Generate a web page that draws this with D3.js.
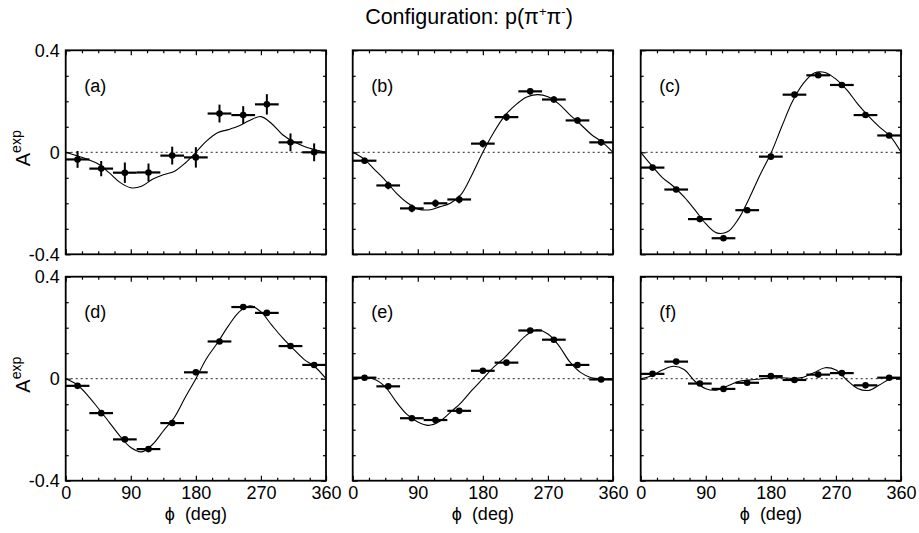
<!DOCTYPE html>
<html>
<head>
<meta charset="utf-8">
<script src="https://cdn.jsdelivr.net/npm/d3@7"></script>
<style>
  body { margin: 0; background: #fff; }
  text { font-family: "Liberation Sans", Arial, sans-serif; fill: #000; }
</style>
</head>
<body>
<svg id="chart" width="919" height="533"></svg>
<script>
// bin centres (deg) and half width of the horizontal bars
const binCenters = [16.4, 49.1, 81.8, 114.5, 147.3, 180.0, 212.7, 245.5, 278.2, 310.9, 343.6];
const binHalfWidth = 16.4;

// measured asymmetries, one array per panel
const valuesA = [-0.028, -0.064, -0.080, -0.079, -0.013, -0.020, 0.152, 0.146, 0.188, 0.039, 0.000];
const errorsA = [0.033, 0.030, 0.040, 0.035, 0.035, 0.040, 0.035, 0.035, 0.040, 0.035, 0.035];
const valuesB = [-0.033, -0.130, -0.220, -0.200, -0.185, 0.034, 0.138, 0.239, 0.207, 0.125, 0.039];
const errorsB = [0.012, 0.015, 0.015, 0.015, 0.015, 0.015, 0.015, 0.012, 0.012, 0.012, 0.012];
const valuesC = [-0.060, -0.146, -0.262, -0.337, -0.227, -0.017, 0.226, 0.302, 0.264, 0.146, 0.066];
const errorsC = [0.010, 0.010, 0.010, 0.010, 0.010, 0.010, 0.010, 0.010, 0.010, 0.010, 0.010];
const valuesD = [-0.028, -0.135, -0.238, -0.276, -0.174, 0.025, 0.146, 0.281, 0.258, 0.128, 0.054];
const errorsD = [0.008, 0.008, 0.008, 0.008, 0.008, 0.008, 0.008, 0.008, 0.008, 0.008, 0.008];
const valuesE = [0.004, -0.030, -0.155, -0.162, -0.126, 0.031, 0.063, 0.189, 0.153, 0.054, -0.003];
const errorsE = [0.008, 0.008, 0.008, 0.008, 0.008, 0.008, 0.008, 0.008, 0.008, 0.008, 0.008];
const valuesF = [0.019, 0.067, -0.019, -0.040, -0.016, 0.010, -0.005, 0.016, 0.022, -0.026, 0.004];
const errorsF = [0.006, 0.006, 0.006, 0.006, 0.006, 0.006, 0.006, 0.006, 0.006, 0.006, 0.006];

const curvePhi = [0, 15, 30, 45, 60, 75, 90, 105, 120, 135, 150, 165, 180,
                  195, 210, 225, 240, 255, 270, 285, 300, 315, 330, 345, 360];
const curveA = [0, -0.013, -0.027, -0.046, -0.080, -0.118, -0.139, -0.133, -0.106, -0.088, -0.075, -0.043, 0,
                0.045, 0.077, 0.089, 0.104, 0.126, 0.140, 0.112, 0.069, 0.042, 0.023, 0.010, 0];
const curveB = [0, -0.025, -0.067, -0.110, -0.159, -0.197, -0.222, -0.226, -0.214, -0.200, -0.165, -0.088, 0,
                0.078, 0.142, 0.185, 0.216, 0.226, 0.218, 0.190, 0.148, 0.110, 0.070, 0.040, 0];
const curveC = [0, -0.051, -0.099, -0.133, -0.175, -0.226, -0.280, -0.316, -0.312, -0.262, -0.181, -0.089, -0.005,
                0.100, 0.200, 0.270, 0.311, 0.313, 0.287, 0.245, 0.190, 0.142, 0.100, 0.063, 0];
const curveD = [0, -0.022, -0.064, -0.116, -0.170, -0.225, -0.270, -0.287, -0.258, -0.205, -0.153, -0.075, 0,
                0.080, 0.141, 0.207, 0.262, 0.286, 0.262, 0.210, 0.160, 0.116, 0.075, 0.046, 0];
const curveE = [0, 0.003, -0.002, -0.032, -0.090, -0.140, -0.170, -0.183, -0.168, -0.132, -0.094, -0.045, 0,
                0.045, 0.083, 0.128, 0.170, 0.192, 0.175, 0.130, 0.067, 0.025, 0.004, 0, 0];
const curveF = [0, 0.012, 0.034, 0.049, 0.036, -0.010, -0.039, -0.045, -0.029, -0.011, -0.005, -0.001, 0.003,
                0.004, 0.001, 0.006, 0.024, 0.043, 0.034, -0.005, -0.038, -0.046, -0.025, -0.001, 0];

const panelLabels = ['(a)', '(b)', '(c)', '(d)', '(e)', '(f)'];
const xMajor = [0, 90, 180, 270, 360];
const xMinor = [22.5, 45, 67.5, 112.5, 135, 157.5, 202.5, 225, 247.5, 292.5, 315, 337.5];
const yMajor = [-0.4, 0, 0.4];
const yMinor = [-0.3, -0.2, -0.1, 0.1, 0.2, 0.3];

const panels = [
  { values: valuesA, errors: errorsA, curve: curveA },
  { values: valuesB, errors: errorsB, curve: curveB },
  { values: valuesC, errors: errorsC, curve: curveC },
  { values: valuesD, errors: errorsD, curve: curveD },
  { values: valuesE, errors: errorsE, curve: curveE },
  { values: valuesF, errors: errorsF, curve: curveF }
];

const svg = d3.select('#chart');
const colLeft = [65.7, 352.7, 640.7];
const rowTop = [50.3, 276.7];
const w = 260.3, h = 204;

const x = d3.scaleLinear().domain([0, 360]).range([0, w]);
const y = d3.scaleLinear().domain([-0.4, 0.4]).range([h, 0]);
const fmtY = d => d === 0 ? '0' : String(d);

function ticks(g, axis, tx, ty, vals, len, labels, fmt) {
  const a = g.append('g')
    .attr('transform', `translate(${tx},${ty})`)
    .call(axis.tickValues(vals).tickSize(-len).tickPadding(6)
      .tickFormat(labels ? fmt : ''));
  a.select('.domain').remove();
  a.selectAll('line').attr('stroke', '#000').attr('stroke-width', 1.2);
  a.attr('font-family', null).attr('font-size', 18);
}

panels.forEach((p, i) => {
  const col = i % 3, row = Math.floor(i / 3);
  const g = svg.append('g')
    .attr('transform', `translate(${colLeft[col]},${rowTop[row]})`);

  // zero line
  g.append('line')
    .attr('x1', x(0)).attr('x2', x(360))
    .attr('y1', y(0)).attr('y2', y(0))
    .attr('stroke', '#222').attr('stroke-width', 1)
    .attr('stroke-dasharray', '2,3');

  // ticks on all four sides, pointing inward
  ticks(g, d3.axisBottom(x), 0, h, xMajor, 5, row === 1, d => String(d));
  ticks(g, d3.axisBottom(x), 0, h, xMinor, 3, false);
  ticks(g, d3.axisTop(x), 0, 0, xMajor, 5, false);
  ticks(g, d3.axisTop(x), 0, 0, xMinor, 3, false);
  ticks(g, d3.axisLeft(y), 0, 0, yMajor, 5, col === 0, fmtY);
  ticks(g, d3.axisLeft(y), 0, 0, yMinor, 3, false);
  ticks(g, d3.axisRight(y), w, 0, yMajor, 5, false);
  ticks(g, d3.axisRight(y), w, 0, yMinor, 3, false);

  // fitted curve
  const line = d3.line()
    .x(d => x(d[0])).y(d => y(d[1]))
    .curve(d3.curveCatmullRom.alpha(0.5));
  g.append('path')
    .datum(curvePhi.map((phi, j) => [phi, p.curve[j]]))
    .attr('d', line)
    .attr('fill', 'none').attr('stroke', '#000').attr('stroke-width', 1.1);

  // data points with error bars
  const pts = g.selectAll('.pt')
    .data(binCenters.map((c, j) => ({ phi: c, v: p.values[j], e: p.errors[j] })))
    .enter().append('g').attr('class', 'pt');
  pts.append('line')
    .attr('x1', d => x(d.phi - binHalfWidth)).attr('x2', d => x(d.phi + binHalfWidth))
    .attr('y1', d => y(d.v)).attr('y2', d => y(d.v))
    .attr('stroke', '#000').attr('stroke-width', 2.2);
  pts.append('line')
    .attr('x1', d => x(d.phi)).attr('x2', d => x(d.phi))
    .attr('y1', d => y(d.v - d.e)).attr('y2', d => y(d.v + d.e))
    .attr('stroke', '#000').attr('stroke-width', 2);
  pts.append('circle')
    .attr('cx', d => x(d.phi)).attr('cy', d => y(d.v)).attr('r', 3.3);

  // frame
  g.append('rect')
    .attr('width', w).attr('height', h)
    .attr('fill', 'none').attr('stroke', '#000').attr('stroke-width', 1.8);

  g.append('text')
    .attr('x', 18.5).attr('y', 41.5)
    .attr('font-size', 18)
    .text(panelLabels[i]);

  if (row === 1) {
    g.append('text')
      .attr('x', w / 2).attr('y', h + 39)
      .attr('text-anchor', 'middle').attr('font-size', 18)
      .text('\u03d5\u00a0\u00a0(deg)');
  }
  if (col === 0) {
    const t = g.append('text')
      .attr('transform', `translate(${30 - colLeft[0]},${h / 2 - 4}) rotate(-90)`)
      .attr('text-anchor', 'middle').attr('font-size', 20);
    t.append('tspan').text('A');
    t.append('tspan').attr('font-size', 14).attr('dy', -9).text('exp');
  }
});

// title
const title = svg.append('text')
  .attr('x', 469).attr('y', 24)
  .attr('text-anchor', 'middle').attr('font-size', 21.5);
title.append('tspan').text('Configuration: p(\u03c0');
title.append('tspan').attr('font-size', 13).attr('dy', -8).text('+');
title.append('tspan').attr('dy', 8).text('\u03c0');
title.append('tspan').attr('font-size', 13).attr('dy', -8).text('-');
title.append('tspan').attr('dy', 8).text(')');
</script>
</body>
</html>
